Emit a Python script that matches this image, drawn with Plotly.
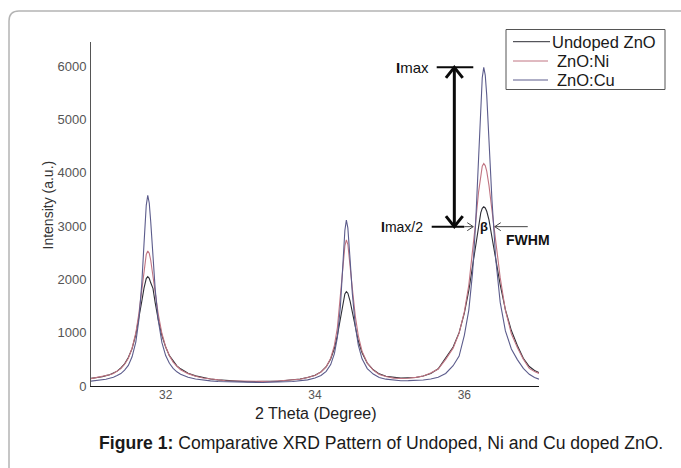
import plotly.graph_objects as go

# 2-theta sampling positions (degrees)
TWO_THETA = [
    31.00, 31.05, 31.10, 31.15, 31.20, 31.25, 31.30, 31.35, 31.40, 31.45,
    31.50, 31.55, 31.60, 31.64, 31.68, 31.71, 31.74, 31.76, 31.78, 31.80,
    31.83, 31.86, 31.90, 31.95, 32.00, 32.05, 32.10, 32.15, 32.20, 32.30,
    32.40, 32.50, 32.60, 32.70, 32.80, 32.90, 33.00, 33.10, 33.20, 33.30,
    33.40, 33.50, 33.60, 33.70, 33.80, 33.90, 34.00, 34.08, 34.15, 34.21,
    34.26, 34.30, 34.34, 34.37, 34.40, 34.42, 34.44, 34.47, 34.50, 34.54,
    34.58, 34.63, 34.70, 34.78, 34.86, 34.95, 35.05, 35.15, 35.25, 35.35,
    35.45, 35.55, 35.65, 35.75, 35.85, 35.93, 36.00, 36.06, 36.11, 36.15,
    36.19, 36.22, 36.24, 36.26, 36.28, 36.30, 36.33, 36.37, 36.42, 36.48,
    36.55, 36.63, 36.71, 36.79, 36.87, 36.94, 37.00,
]

# Intensity (a.u.) for each sample
UNDOPED = [
    142, 150, 168, 174, 195, 210, 244, 279, 340, 415,
    534, 700, 962, 1240, 1586, 1836, 2015, 2050, 2020, 1935,
    1830, 1560, 1250, 946, 730, 570, 462, 378, 322, 238,
    190, 155, 132, 114, 104, 90, 88, 80, 84, 79,
    88, 90, 102, 110, 132, 158, 202, 264, 362, 508,
    708, 951, 1273, 1534, 1727, 1770, 1740, 1592, 1379, 1086,
    844, 622, 429, 304, 228, 184, 162, 148, 154, 158,
    188, 234, 322, 520, 730, 1000, 1364, 1791, 2245, 2650,
    3030, 3245, 3330, 3360, 3338, 3276, 3115, 2815, 2386, 1902,
    1430, 1040, 760, 520, 365, 290, 252,
]

ZNO_NI = [
    138, 152, 158, 176, 184, 212, 234, 276, 326, 408,
    521, 708, 994, 1348, 1810, 2190, 2466, 2530, 2488, 2358,
    2075, 1750, 1355, 984, 736, 566, 448, 370, 306, 232,
    182, 150, 126, 116, 98, 94, 86, 85, 80, 86,
    84, 96, 100, 114, 126, 160, 198, 262, 360, 520,
    763, 1095, 1630, 2160, 2627, 2740, 2657, 2295, 1834, 1308,
    941, 654, 430, 297, 215, 178, 148, 142, 144, 162,
    188, 242, 318, 500, 710, 990, 1390, 1894, 2483, 3051,
    3631, 3978, 4121, 4170, 4133, 4027, 3763, 3296, 2678, 2036,
    1420, 980, 720, 500, 330, 270, 236,
]

ZNO_CU = [
    92, 98, 104, 118, 126, 147, 164, 197, 233, 298,
    386, 548, 823, 1228, 1915, 2665, 3388, 3575, 3432, 3080,
    2410, 1808, 1240, 812, 570, 425, 330, 266, 222, 165,
    130, 108, 96, 84, 80, 70, 72, 66, 69, 65,
    72, 71, 80, 85, 100, 115, 150, 198, 275, 402,
    607, 915, 1485, 2180, 2915, 3110, 2965, 2370, 1735, 1125,
    765, 510, 326, 224, 160, 128, 112, 98, 100, 104,
    112, 132, 165, 235, 380, 560, 950, 1423, 2120, 3010,
    4263, 5280, 5780, 5975, 5830, 5454, 4628, 3487, 2392, 1572,
    1033, 695, 495, 330, 220, 160, 128,
]

SERIES_NAMES = ["Undoped ZnO", "ZnO:Ni", "ZnO:Cu"]
SERIES_COLORS = ["#2e2e36", "#c07482", "#5c5c8c"]
X_TICKS = [32, 34, 36]
Y_TICKS = [0, 1000, 2000, 3000, 4000, 5000, 6000]

W, H = 681, 468
ML, MR, MT, MB = 91, 142, 42, 82
PW, PH = W - ML - MR, H - MT - MB
X_RANGE = [31, 37]
Y_RANGE = [0, 6450]
FONT = "Liberation Sans, Arial, sans-serif"


def px(x):
    """Pixel column -> paper x."""
    return (x - ML) / PW


def py(y):
    """Pixel row -> paper y."""
    return (H - MB - y) / PH


def dx(pixels):
    """Horizontal pixel length -> degrees."""
    return pixels * (X_RANGE[1] - X_RANGE[0]) / PW


def dy(pixels):
    """Vertical pixel length -> intensity units."""
    return pixels * (Y_RANGE[1] - Y_RANGE[0]) / PH


fig = go.Figure()
for name, values, color in zip(SERIES_NAMES, [UNDOPED, ZNO_NI, ZNO_CU], SERIES_COLORS):
    fig.add_trace(go.Scatter(
        x=TWO_THETA, y=values, mode="lines", name=name,
        line=dict(color=color, width=1.1), showlegend=False,
    ))

shapes = []
annotations = []

# Page frame with a rounded top-left corner
shapes.append(dict(
    type="path", xref="paper", yref="paper",
    path=(f"M {px(700)} {py(11)} L {px(19)} {py(11)} "
          f"Q {px(9)} {py(11)} {px(9)} {py(21)} L {px(9)} {py(490)}"),
    line=dict(color="#b4b4b4", width=1.5),
))

# Legend box
shapes.append(dict(
    type="rect", xref="paper", yref="paper",
    x0=px(506), x1=px(665), y0=py(89.5), y1=py(29.5),
    line=dict(color="#555555", width=1), fillcolor="white",
))
legend_rows = [(41.7, 513, 550, 550), (61, 513, 548, 555), (80, 513, 548, 555)]
for (row_y, lx0, lx1, tx), name, color in zip(legend_rows, SERIES_NAMES, SERIES_COLORS):
    shapes.append(dict(
        type="line", xref="paper", yref="paper",
        x0=px(lx0), x1=px(lx1), y0=py(row_y), y1=py(row_y),
        line=dict(color=color, width=1),
    ))
    annotations.append(dict(
        xref="paper", yref="paper", x=px(tx), y=py(row_y),
        xanchor="left", yanchor="middle", showarrow=False,
        text=name, font=dict(family=FONT, size=16.5, color="#1a1a1a"),
    ))

# FWHM construction on the strongest reflection
imax = max(ZNO_CU)
half = imax / 2
peak_theta = TWO_THETA[ZNO_CU.index(imax)]
arrow_x = 35.866
black = "#0a0a0a"
thin = "#444444"

# Imax reference line and double-headed vertical arrow
shapes.append(dict(type="line", x0=35.63, x1=36.12, y0=imax, y1=imax,
                   line=dict(color=black, width=2)))
shapes.append(dict(type="line", x0=arrow_x, x1=arrow_x, y0=half, y1=imax,
                   line=dict(color=black, width=3)))
shapes.append(dict(
    type="path",
    path=(f"M {arrow_x - dx(8.4)} {imax - dy(10.5)} L {arrow_x} {imax} "
          f"L {arrow_x + dx(8.4)} {imax - dy(10.5)}"),
    line=dict(color=black, width=3),
))
shapes.append(dict(
    type="path",
    path=(f"M {arrow_x - dx(8.4)} {half + dy(10.5)} L {arrow_x} {half} "
          f"L {arrow_x + dx(8.4)} {half + dy(10.5)}"),
    line=dict(color=black, width=3),
))

# Imax/2 line ending in a thin arrow pointing at the peak flank
left_tip = peak_theta - dx(10.5)
right_tip = peak_theta + dx(11)
shapes.append(dict(type="line", x0=35.563, x1=left_tip - dx(9), y0=half, y1=half,
                   line=dict(color=black, width=2)))
shapes.append(dict(type="line", x0=left_tip - dx(9), x1=left_tip, y0=half, y1=half,
                   line=dict(color=thin, width=1)))
shapes.append(dict(
    type="path",
    path=(f"M {left_tip - dx(6)} {half + dy(4)} L {left_tip} {half} "
          f"L {left_tip - dx(6)} {half - dy(4)}"),
    line=dict(color=thin, width=1),
))
# Thin arrow from the right
shapes.append(dict(type="line", x0=right_tip, x1=right_tip + dx(33), y0=half, y1=half,
                   line=dict(color=thin, width=1)))
shapes.append(dict(
    type="path",
    path=(f"M {right_tip + dx(6)} {half + dy(4)} L {right_tip} {half} "
          f"L {right_tip + dx(6)} {half - dy(4)}"),
    line=dict(color=thin, width=1),
))

annotations += [
    dict(x=35.555, y=imax, xanchor="right", yanchor="middle", showarrow=False,
         text="<b>I</b>max", font=dict(family=FONT, size=15, color="#111111")),
    dict(x=35.475, y=half, xanchor="right", yanchor="middle", showarrow=False,
         text="<b>I</b>max/2", font=dict(family=FONT, size=14, color="#111111")),
    dict(x=peak_theta, y=half, xanchor="center", yanchor="middle", showarrow=False,
         text="<b>β</b>", font=dict(family=FONT, size=13, color="#111111")),
    dict(x=36.846, y=half - dy(13), xanchor="center", yanchor="middle", showarrow=False,
         text="<b>FWHM</b>", font=dict(family=FONT, size=14, color="#111111")),
]

# Axis titles and figure caption
annotations += [
    dict(xref="paper", yref="paper", x=px(47.5), y=py(205), textangle=-90,
         xanchor="center", yanchor="middle", showarrow=False,
         text="Intensity (a.u.)", font=dict(family=FONT, size=14, color="#333333")),
    dict(xref="paper", yref="paper", x=px(315.5), y=py(413.5),
         xanchor="center", yanchor="middle", showarrow=False,
         text="2 Theta (Degree)", font=dict(family=FONT, size=16, color="#222222")),
    dict(xref="paper", yref="paper", x=px(380.5), y=py(443),
         xanchor="center", yanchor="middle", showarrow=False,
         text="<b>Figure 1:</b> Comparative XRD Pattern of Undoped, Ni and Cu doped ZnO.",
         font=dict(family=FONT, size=17.6, color="#1a1a1a")),
]

fig.update_layout(
    width=W, height=H,
    margin=dict(l=ML, r=MR, t=MT, b=MB, pad=0),
    paper_bgcolor="white", plot_bgcolor="white",
    font=dict(family=FONT),
    shapes=shapes, annotations=annotations,
    xaxis=dict(
        range=X_RANGE, tickvals=X_TICKS, ticks="", showgrid=False, zeroline=False,
        showline=True, linecolor="#1a1a1a", linewidth=1.2,
        tickfont=dict(family=FONT, size=12, color="#555555"),
        ticklabelstandoff=-3,
    ),
    yaxis=dict(
        range=Y_RANGE, tickvals=Y_TICKS, ticks="", showgrid=False, zeroline=False,
        showline=True, linecolor="#555555", linewidth=1,
        tickfont=dict(family=FONT, size=13, color="#555555"),
        ticklabelstandoff=1,
    ),
)

fig.write_html("out.html")
